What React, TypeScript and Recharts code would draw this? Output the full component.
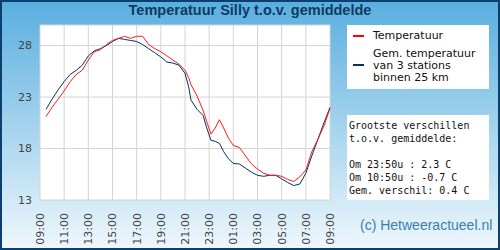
import React from "react";
import { LineChart, Line, XAxis, YAxis, CartesianGrid } from "recharts";

// hours after 09:00
const hours = [
  0.5, 1, 1.5, 2, 2.5, 3, 3.5, 4, 4.5, 5, 5.5, 6, 6.5, 7, 7.5, 8, 8.5, 9, 9.5, 10,
  10.5, 11, 11.5, 12, 12.3, 12.5, 13, 13.5, 13.8, 14.15, 14.5, 14.85, 15.2, 15.6,
  16, 16.5, 17, 17.5, 18, 18.5, 19, 19.5, 20, 20.5, 21, 21.5, 22, 22.5, 23, 23.5, 24
];
const temperatuur = [
  21.1, 22.0, 22.8, 23.6, 24.5, 25.2, 25.6, 26.6, 27.4, 27.6, 28.1, 28.5, 28.7, 28.9,
  28.7, 28.9, 28.9, 28.1, 27.7, 27.4, 27.0, 26.6, 26.2, 25.6, 24.9, 24.2, 23.1, 21.7,
  20.6, 19.4, 20.0, 20.8, 20.0, 19.0, 18.3, 18.1, 17.3, 16.5, 16.0, 15.6, 15.4, 15.4,
  15.3, 15.0, 14.8, 15.25, 15.9, 17.7, 18.9, 20.2, 21.9
];
const gemiddelde = [
  21.8, 22.8, 23.7, 24.5, 25.2, 25.6, 26.1, 27.0, 27.5, 27.7, 28.0, 28.4, 28.7, 28.6,
  28.5, 28.4, 28.1, 27.7, 27.3, 26.9, 26.4, 26.3, 26.1, 25.3, 24.0, 22.7, 21.8, 21.2,
  20.0, 18.8, 18.7, 18.5, 17.7, 17.0, 16.55, 16.5, 16.1, 15.7, 15.4, 15.3, 15.4, 15.4,
  15.05, 14.7, 14.4, 14.55, 15.6, 17.3, 18.9, 20.5, 22.0
];
const xTicks = [0, 2, 4, 6, 8, 10, 12, 14, 16, 18, 20, 22, 24];
const xLabels = [
  "09:00", "11:00", "13:00", "15:00", "17:00", "19:00", "21:00",
  "23:00", "01:00", "03:00", "05:00", "07:00", "09:00"
];
const yTicks = [13, 18, 23, 28];

const data = hours.map((h, i) => ({ h, temp: temperatuur[i], gem: gemiddelde[i] }));

const XTick = (props: any) => {
  const { x, payload } = props;
  const label = xLabels[xTicks.indexOf(payload.value)];
  return (
    <g transform={`translate(${x},213) rotate(-90)`}>
      <text x={0} y={0} dy="0.36em" textAnchor="end" fill="#444" fontSize={11}
        fontFamily="DejaVu Sans">
        {label}
      </text>
    </g>
  );
};

const boxText: React.CSSProperties = {
  position: "absolute",
  background: "#fff",
  color: "#111",
};

export default function App() {
  return (
    <div
      style={{
        position: "absolute",
        left: 0,
        top: 0,
        width: 500,
        height: 250,
        boxSizing: "border-box",
        border: "2px solid #0b3f6e",
        background: "linear-gradient(to bottom, #5aafdf 0%, #9ccfec 45%, #eef7fc 100%)",
        overflow: "hidden",
      }}
    >
      <div style={{ position: "absolute", left: -2, top: -2 }}>
        <LineChart width={500} height={250} data={data}
          margin={{ top: 25, right: 170, bottom: 0, left: 0 }}>
          <CartesianGrid stroke="#d4d4d4" fill="#fff" />
          <XAxis dataKey="h" type="number" domain={[0, 24]} ticks={xTicks}
            axisLine={false} tickLine={false} height={50} tick={<XTick />} interval={0} />
          <YAxis type="number" domain={[13, 30]} ticks={yTicks} width={40}
            axisLine={false} tickLine={false}
            tick={{ fill: "#444", fontSize: 11, fontFamily: "DejaVu Sans" }} />
          <Line dataKey="gem" stroke="#003366" strokeWidth={1} dot={false}
            type="linear" isAnimationActive={false} />
          <Line dataKey="temp" stroke="#ff1a1a" strokeWidth={1} dot={false}
            type="linear" isAnimationActive={false} />
        </LineChart>
        <div style={{ position: "absolute", left: 0, top: 2, width: 500, textAlign: "center",
          fontFamily: "Liberation Sans", fontWeight: "bold", fontSize: 14.5, color: "#0f3a63" }}>
          Temperatuur Silly t.o.v. gemiddelde
        </div>
        <div style={{ ...boxText, left: 347, top: 25, width: 142, height: 64,
          fontFamily: "DejaVu Sans", fontSize: 11, lineHeight: "12px" }}>
          <div style={{ position: "absolute", left: 6, top: 10, width: 11, height: 2, background: "#ff0000" }} />
          <div style={{ position: "absolute", left: 26, top: 5 }}>Temperatuur</div>
          <div style={{ position: "absolute", left: 6, top: 39, width: 11, height: 2, background: "#003366" }} />
          <div style={{ position: "absolute", left: 26, top: 23 }}>
            Gem. temperatuur<br />van 3 stations<br />binnen 25 km
          </div>
        </div>
        <div style={{ ...boxText, left: 347, top: 115, width: 142, height: 85,
          fontFamily: "DejaVu Sans Mono", fontSize: 10, lineHeight: "13px", whiteSpace: "pre",
          padding: "4px 0 0 2px", boxSizing: "border-box" }}>
          {"Grootste verschillen\nt.o.v. gemiddelde:\n\nOm 23:50u : 2.3 C\nOm 10:50u : -0.7 C\nGem. verschil: 0.4 C"}
        </div>
        <div style={{ position: "absolute", left: 360, top: 217, fontFamily: "Liberation Sans",
          fontSize: 14, color: "#3b80aa" }}>
          (c) Hetweeractueel.nl
        </div>
      </div>
    </div>
  );
}
